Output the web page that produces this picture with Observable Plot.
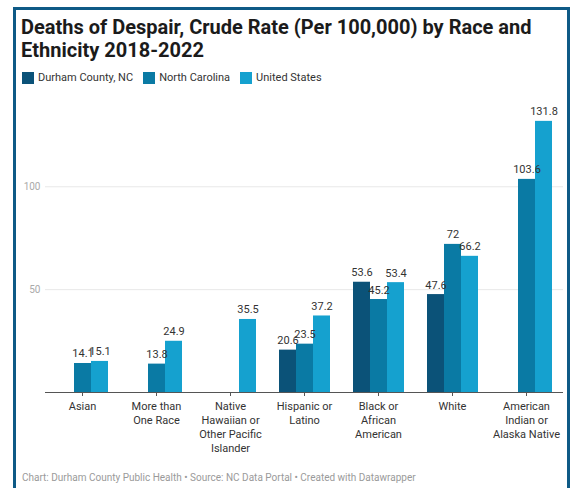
<!DOCTYPE html>
<html>
<head>
<meta charset="utf-8">
<script src="https://cdn.jsdelivr.net/npm/d3@7"></script>
<script src="https://cdn.jsdelivr.net/npm/@observablehq/plot@0.6"></script>
<style>
  body { margin: 0; background: #fff; font-family: Roboto, sans-serif; }
  #frame { position: absolute; left: 13px; top: 7px; width: 551px; height: 500px; border: 3px solid #0e5a86; border-bottom: none; }
  #title { position: absolute; left: 21px; top: 16px; font-size: 20px; font-weight: 700; line-height: 23px; color: #1b1b1b; white-space: nowrap; }
  #legend { position: absolute; left: 22px; top: 71px; font-size: 11px; color: #333; display: flex; align-items: center; }
  #legend .item { display: flex; align-items: center; margin-right: 10px; }
  #legend .sw { width: 12px; height: 12px; margin-right: 4px; }
  #chart { position: absolute; left: 0; top: 90px; }
  #footer { position: absolute; left: 22px; top: 472px; font-size: 10px; color: #9a9a9a; white-space: nowrap; }
</style>
</head>
<body>
<div id="frame"></div>
<div id="title">Deaths of Despair, Crude Rate (Per 100,000) by Race and<br>Ethnicity 2018-2022</div>
<div id="legend"></div>
<div id="chart"></div>
<div id="footer">Chart: Durham County Public Health • Source: NC Data Portal • Created with Datawrapper</div>
<script>
const categories = ["Asian", "More than One Race", "Native Hawaiian or Other Pacific Islander", "Hispanic or Latino", "Black or African American", "White", "American Indian or Alaska Native"];
const tickLabels = ["Asian", "More than\nOne Race", "Native\nHawaiian or\nOther Pacific\nIslander", "Hispanic or\nLatino", "Black or\nAfrican\nAmerican", "White", "American\nIndian or\nAlaska Native"];
const series = ["Durham County, NC", "North Carolina", "United States"];
const durham = [null, null, null, 20.6, 53.6, 47.6, null];
const northCarolina = [14.1, 13.8, null, 23.5, 45.2, 72, 103.6];
const unitedStates = [15.1, 24.9, 35.5, 37.2, 53.4, 66.2, 131.8];
const colors = ["#0b5278", "#0a7aa4", "#15a1cf"];
const yTicks = [50, 100];

const seriesValues = [durham, northCarolina, unitedStates];
const rows = [];
categories.forEach((c, i) => {
  series.forEach((s, j) => {
    const v = seriesValues[j][i];
    if (v != null) rows.push({cat: c, series: s, value: v});
  });
});

// legend
const legend = document.getElementById("legend");
series.forEach((s, j) => {
  const it = document.createElement("div");
  it.className = "item";
  it.innerHTML = `<div class="sw" style="background:${colors[j]}"></div><span>${s}</span>`;
  legend.appendChild(it);
});

const chart = Plot.plot({
  width: 575,
  height: 372,
  marginLeft: 45,
  marginRight: 12,
  marginTop: 14,
  marginBottom: 70,
  style: {fontFamily: "Roboto, sans-serif", fontSize: "11px", background: "transparent"},
  fx: {domain: categories, padding: 0, label: null},
  x: {domain: series, paddingInner: 0, paddingOuter: 0.635, axis: null},
  y: {domain: [0, 140], label: null},
  color: {domain: series, range: colors},
  marks: [
    Plot.ruleY(yTicks, {stroke: "#e8e8e8"}),
    Plot.barY(rows, {fx: "cat", x: "series", y: "value", fill: "series"}),
    Plot.ruleY([0], {stroke: "#555"}),
    Plot.text(rows, {fx: "cat", x: "series", y: "value", text: d => String(d.value), dy: -6, lineAnchor: "bottom", fill: "#333", fontSize: 11}),
    Plot.axisY({ticks: yTicks, tickSize: 0, tickPadding: 5, fill: "#aaa", label: null, fontSize: 10}),
    Plot.axisFx({anchor: "bottom", tickSize: 4, tickPadding: 4, stroke: "#555", fill: "#333", label: null, lineHeight: 1.27, fontSize: 11,
      tickFormat: d => tickLabels[categories.indexOf(d)]})
  ]
});
document.getElementById("chart").appendChild(chart);
</script>
</body>
</html>
